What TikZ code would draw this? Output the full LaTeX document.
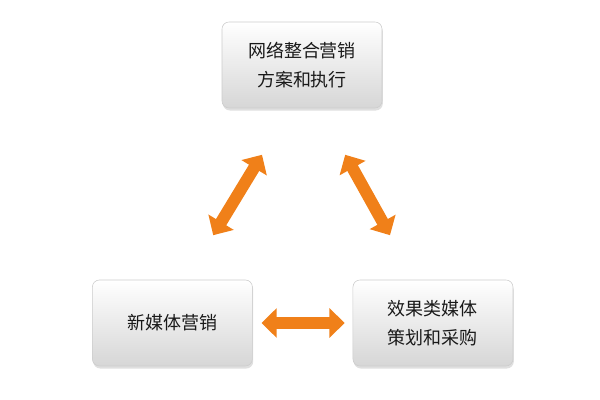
\documentclass[tikz,border=0pt]{standalone}
\usepackage{fontspec}
\usepackage{xcolor}
\usepackage{tikz}
\usetikzlibrary{arrows.meta, positioning, shadows}
\newfontfamily\cjk{Noto Sans CJK SC}
\definecolor{boxedge}{rgb}{0.80, 0.80, 0.80}
\definecolor{boxbottom}{rgb}{0.84, 0.84, 0.84}
\definecolor{arroworange}{rgb}{0.94, 0.50, 0.10}
\definecolor{textgray}{rgb}{0.10, 0.10, 0.10}

\begin{document}
\begin{tikzpicture}[
  node distance=0pt,
  block/.style={
    rectangle, rounded corners=5pt, minimum width=4.0cm, minimum height=2.15cm,
    align=center, top color=white, bottom color=boxbottom, draw=boxedge,
    line width=0.4pt, text=textgray,
    font=\cjk\fontsize{12.8}{21}\selectfont,
    drop shadow={opacity=0.25, shadow xshift=0.6pt, shadow yshift=-1.8pt}
  },
  arr/.style={{Triangle[length=0.38cm, width=0.72cm]}-{Triangle[length=0.38cm, width=0.72cm]},
    line width=0.3cm, color=arroworange}
]
  \useasboundingbox (0,0) rectangle (15,10);

  % Three boxes
  \node[block] (plan) at (7.55,8.375) {网络整合营销\\方案和执行};
  \node[block] (newmedia) at (4.31,1.925) {新媒体营销};
  \node[block, right=2.5cm of newmedia] (effect) {效果类媒体\\策划和采购};

  % Arrow ends
  \coordinate (la) at (5.33,4.12);
  \coordinate (lb) at (6.55,6.13);
  \coordinate (ra) at (8.63,6.13);
  \coordinate (rb) at (9.75,4.12);

  % Double arrows between boxes
  \draw[arr] (la) -- (lb);
  \draw[arr] (ra) -- (rb);
  \draw[arr, shorten <=0.22cm, shorten >=0.2cm] (newmedia) -- (effect);
\end{tikzpicture}
\end{document}
